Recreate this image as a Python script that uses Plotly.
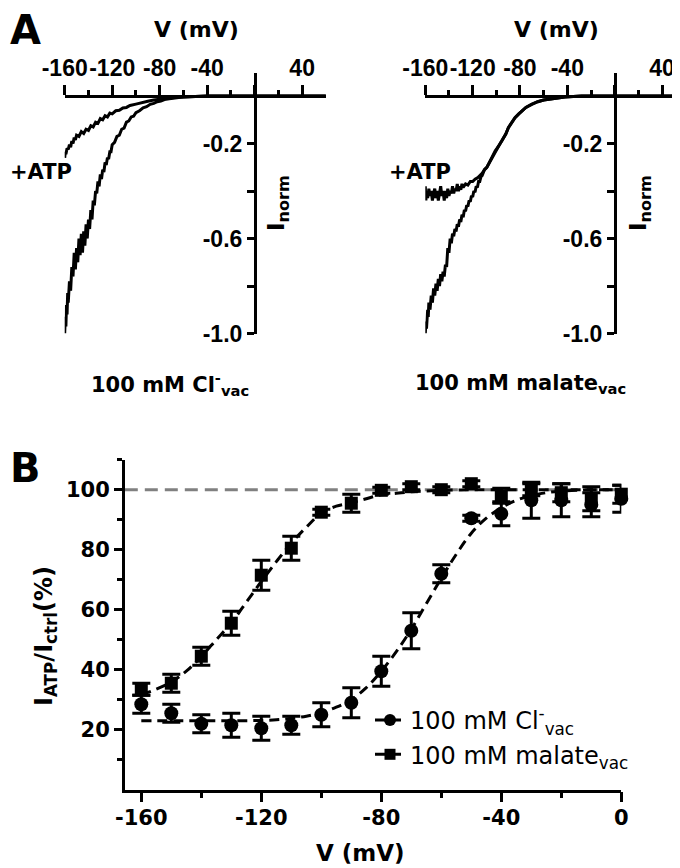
import plotly.graph_objects as go

# ---------------- Panel A: I-V recordings (V in mV, normalised current) -------------
# left panel: 100 mM Cl- vacuolar
cl_ctrl = [(-160, -1.00), (-159.5, -0.93), (-159, -0.97), (-158.5, -0.88), (-158, -0.92),
           (-157.5, -0.83), (-157, -0.87), (-156, -0.78), (-155, -0.82), (-154, -0.72),
           (-153, -0.76), (-152, -0.66), (-151, -0.73), (-150, -0.64), (-149, -0.70),
           (-148, -0.60), (-147, -0.67), (-146, -0.58), (-145, -0.66), (-144, -0.57),
           (-143, -0.63), (-142, -0.54), (-141, -0.60), (-140, -0.52), (-139, -0.56),
           (-138, -0.48), (-137, -0.52), (-136, -0.44), (-135, -0.46), (-134, -0.40),
           (-133, -0.41), (-132, -0.36), (-131, -0.38), (-130, -0.33), (-129, -0.35),
           (-128, -0.31), (-127, -0.32), (-126, -0.28), (-125, -0.29), (-124, -0.26),
           (-123, -0.265), (-122, -0.235), (-121, -0.235), (-120, -0.205), (-118, -0.195),
           (-116, -0.17), (-114, -0.165), (-112, -0.14), (-110, -0.135), (-108, -0.11),
           (-106, -0.105), (-104, -0.088), (-102, -0.085), (-100, -0.07), (-97, -0.062),
           (-94, -0.05), (-91, -0.045), (-88, -0.035), (-85, -0.031), (-82, -0.024),
           (-79, -0.021), (-76, -0.015), (-72, -0.012), (-68, -0.008), (-64, -0.006),
           (-60, -0.004), (-55, -0.003), (-50, -0.002), (-45, -0.001), (-40, 0.0),
           (-20, 0.0), (0, 0.0), (20, 0.0), (40, 0.0), (60, 0.0)]
cl_atp = [(-160, -0.26), (-159.5, -0.235), (-159, -0.245), (-158, -0.22), (-157, -0.225),
          (-156, -0.205), (-155, -0.215), (-154, -0.19), (-153, -0.20), (-152, -0.175),
          (-151, -0.185), (-150, -0.165), (-148, -0.17), (-146, -0.15), (-144, -0.158),
          (-142, -0.14), (-140, -0.145), (-138, -0.125), (-136, -0.13), (-134, -0.11),
          (-132, -0.115), (-130, -0.095), (-128, -0.10), (-126, -0.083), (-124, -0.088),
          (-122, -0.072), (-120, -0.075), (-117, -0.062), (-114, -0.06), (-111, -0.05),
          (-108, -0.048), (-105, -0.04), (-100, -0.034), (-95, -0.027), (-90, -0.022),
          (-85, -0.017), (-80, -0.013), (-75, -0.01), (-70, -0.007), (-65, -0.005),
          (-60, -0.004), (-55, -0.002), (-50, -0.001), (-40, 0.0), (-20, 0.0), (0, 0.0),
          (20, 0.0), (40, 0.0), (60, 0.0)]

# right panel: 100 mM malate vacuolar
mal_ctrl = [(-160, -1.00), (-159.4, -0.95), (-159, -0.98), (-158, -0.90), (-157.5, -0.93),
            (-157, -0.87), (-156, -0.90), (-155, -0.84), (-154, -0.87), (-153, -0.81),
            (-152, -0.84), (-151, -0.79), (-150, -0.82), (-149, -0.77), (-148, -0.80),
            (-147, -0.75), (-146, -0.78), (-145, -0.74), (-144, -0.76), (-143, -0.71),
            (-142, -0.72), (-141, -0.64), (-140, -0.66), (-139, -0.60), (-138, -0.62),
            (-137, -0.58), (-136, -0.59), (-135, -0.56), (-134, -0.57), (-133, -0.54),
            (-132, -0.55), (-131, -0.52), (-130, -0.53), (-129, -0.50), (-128, -0.51),
            (-127, -0.48), (-126, -0.485), (-125, -0.46), (-124, -0.465), (-123, -0.44),
            (-122, -0.445), (-121, -0.42), (-120, -0.425), (-119, -0.40), (-118, -0.405),
            (-117, -0.38), (-116, -0.385), (-115, -0.36), (-114, -0.36), (-113, -0.34),
            (-112, -0.335), (-110, -0.31), (-108, -0.30), (-106.7, -0.288), (-104, -0.262),
            (-101, -0.232), (-98, -0.21), (-95.4, -0.189), (-92, -0.16), (-89.8, -0.133),
            (-87, -0.11), (-84.2, -0.091), (-81, -0.075), (-78.6, -0.063), (-75, -0.048),
            (-70.2, -0.035), (-65, -0.024), (-60, -0.017), (-56.1, -0.014), (-50, -0.008),
            (-42.1, -0.004), (-35, -0.002), (-28, 0.0), (-10, 0.0), (0, 0.0), (20, 0.0),
            (40, 0.0), (60, 0.0)]
mal_atp = [(-160, -0.38), (-159.5, -0.44), (-159, -0.40), (-158, -0.43), (-157, -0.39),
           (-156, -0.42), (-155, -0.40), (-154, -0.44), (-153, -0.41), (-152, -0.39),
           (-151, -0.43), (-150, -0.40), (-149, -0.44), (-148, -0.41), (-147, -0.38),
           (-146, -0.42), (-145, -0.40), (-144, -0.44), (-143, -0.40), (-142, -0.43),
           (-141, -0.39), (-140, -0.42), (-139, -0.40), (-138, -0.41), (-137, -0.38),
           (-136, -0.41), (-135, -0.39), (-134, -0.40), (-133, -0.37), (-132, -0.40),
           (-131, -0.38), (-130, -0.395), (-129, -0.37), (-128, -0.385), (-126, -0.37),
           (-124, -0.375), (-122, -0.36), (-120, -0.36), (-118, -0.35), (-116, -0.345),
           (-114, -0.335), (-112, -0.325), (-110, -0.31), (-108, -0.30), (-106.7, -0.288),
           (-104, -0.262), (-101, -0.232), (-98, -0.21), (-95.4, -0.189), (-92, -0.16),
           (-89.8, -0.133), (-87, -0.11), (-84.2, -0.091), (-81, -0.075), (-78.6, -0.063),
           (-75, -0.048), (-70.2, -0.035), (-65, -0.024), (-60, -0.017), (-56.1, -0.014),
           (-50, -0.008), (-42.1, -0.004), (-35, -0.002), (-28, 0.0), (-10, 0.0), (0, 0.0),
           (20, 0.0), (40, 0.0), (60, 0.0)]

# ---------------- Panel B: I_ATP / I_ctrl (%) -------------
volt = [-160, -150, -140, -130, -120, -110, -100, -90, -80, -70, -60, -50, -40, -30, -20, -10, 0]
cl_mean = [28.5, 25.5, 22, 21.5, 20.5, 21.5, 25, 29, 39.5, 53, 72, 90.5, 92, 96.5, 96.5, 95, 97]
cl_err = [3, 3, 3, 4, 4, 3, 4, 5, 5, 6, 3, 1, 4, 6, 5.5, 4, 4.5]
mal_mean = [33.5, 35.5, 44.5, 55.5, 71.5, 80.5, 92.5, 95.5, 99.8, 101, 100, 102, 98, 100, 99, 97, 98.5]
mal_err = [2, 3, 3, 4, 5, 4, 1, 3, 1, 1, 1, 1, 2.5, 2, 3, 4, 3]

# fitted Boltzmann curves
fit_v = [-160, -155, -150, -145, -140, -135, -130, -125, -120, -115, -110, -105, -100, -95,
         -90, -85, -80, -75, -70, -65, -60, -55, -50, -45, -40, -35, -30, -25, -20, -15,
         -10, -5, 0]
cl_fit = [23, 23, 23, 23, 23, 23, 23, 23, 23.1, 23.3, 23.8, 24.5, 25.7, 27.5, 30, 34, 39.5,
          46, 53.5, 62, 70.5, 78.5, 85.5, 90.5, 94, 96.5, 98, 99, 99.5, 99.8, 100, 100, 100]
mal_fit = [31.7, 33.5, 35.9, 39.5, 44.4, 50, 55.6, 62.5, 69.4, 76, 82.2, 87.5, 92.2, 94.5,
           95.6, 97, 98.3, 98.8, 99.3, 99.6, 99.8, 99.9, 100, 100, 100, 100, 100, 100, 100,
           100, 100, 100, 100]
control_level = 100

ARIAL = "Liberation Sans, Arial, Helvetica, sans-serif"
DEJA = "DejaVu Sans, Verdana, sans-serif"
W, H = 680, 868


def px(x):
    return x / W


def py(y):
    return 1 - y / H


fig = go.Figure()


def add_trace_a(pairs, xa, ya):
    v = [p[0] for p in pairs]
    i = [p[1] for p in pairs]
    fig.add_trace(go.Scatter(x=v, y=i, mode="lines", xaxis=xa, yaxis=ya,
                             line=dict(color="black", width=3), showlegend=False,
                             hoverinfo="skip"))


add_trace_a(cl_ctrl, "x", "y")
add_trace_a(cl_atp, "x", "y")
add_trace_a(mal_ctrl, "x2", "y2")
add_trace_a(mal_atp, "x2", "y2")

# panel B fits
for fy in (cl_fit, mal_fit):
    fig.add_trace(go.Scatter(x=fit_v, y=fy, mode="lines", xaxis="x3", yaxis="y3",
                             line=dict(color="black", width=3, dash="10px,6px", shape="spline"),
                             showlegend=False))

# panel B data
fig.add_trace(go.Scatter(x=volt, y=mal_mean, mode="markers", xaxis="x3", yaxis="y3",
                         marker=dict(symbol="square", size=13, color="black"),
                         error_y=dict(type="data", array=mal_err, color="black", thickness=3, width=9),
                         cliponaxis=False, showlegend=False))
fig.add_trace(go.Scatter(x=volt, y=cl_mean, mode="markers", xaxis="x3", yaxis="y3",
                         marker=dict(symbol="circle", size=14, color="black"),
                         error_y=dict(type="data", array=cl_err, color="black", thickness=3, width=9),
                         cliponaxis=False, showlegend=False))

# legend entries
fig.add_trace(go.Scatter(x=[None], y=[None], mode="lines+markers", xaxis="x3", yaxis="y3",
                         name="100 mM Cl<sup>-</sup><sub>vac</sub>",
                         marker=dict(symbol="circle", size=12, color="black"),
                         line=dict(color="black", width=3, dash="10px,6px")))
fig.add_trace(go.Scatter(x=[None], y=[None], mode="lines+markers", xaxis="x3", yaxis="y3",
                         name="100 mM malate<sub>vac</sub>",
                         marker=dict(symbol="square", size=11, color="black"),
                         line=dict(color="black", width=3, dash="10px,6px")))

# reference line at 100 %
fig.add_shape(type="line", xref="x3 domain", x0=0, x1=1, yref="y3", y0=control_level,
              y1=control_level, line=dict(color="#808080", width=3, dash="13px,7px"), layer="below")

tickfont_a = dict(family=ARIAL, size=23, color="black", weight="bold")
tickfont_b = dict(family=DEJA, size=21, color="black", weight="bold")

common_x_a = dict(range=[-160, 60], showline=True, linewidth=2.5, linecolor="black",
                  ticks="outside", ticklen=10, tickwidth=2.5, tickcolor="black",
                  tickvals=[-160, -120, -80, -40, 0, 40],
                  ticktext=["-160", "-120", "-80", "-40", "", "40"], tickangle=0,
                  minor=dict(tickvals=[-140, -100, -60, -20, 20], ticklen=5, tickwidth=2.5,
                             tickcolor="black", ticks="outside"),
                  side="top", anchor="free", position=py(88), tickfont=tickfont_a,
                  showgrid=False, zeroline=False, automargin=False, fixedrange=True)
common_y_a = dict(range=[-1.0, 0.097], domain=[py(325.5), py(65)], showline=True,
                  linewidth=2.5, linecolor="black", ticks="outside", ticklen=7, tickwidth=2.5,
                  tickcolor="black", tickvals=[-1.0, -0.8, -0.6, -0.4, -0.2],
                  ticktext=["-1.0", "", "-0.6", "", "-0.2"], anchor="free", side="left",
                  tickfont=tickfont_a, showgrid=False, zeroline=False, automargin=False)

fig.update_layout(
    width=W, height=H, margin=dict(l=0, r=0, t=0, b=0),
    template="none", plot_bgcolor="white", paper_bgcolor="white",
    font=dict(family=DEJA, color="black"),
    xaxis=dict(domain=[px(56.7), px(317.9)], **common_x_a),
    yaxis=dict(position=px(246.7), **common_y_a),
    xaxis2=dict(domain=[px(417.3), px(677.7)], **common_x_a),
    yaxis2=dict(position=px(606.7), **common_y_a),
    xaxis3=dict(domain=[px(116.8), px(613.3)], range=[-165.5, 0], anchor="y3",
                showline=True, linewidth=2.5, linecolor="black", ticks="outside",
                ticklen=10, tickwidth=2.5, tickcolor="black",
                tickvals=[-160, -120, -80, -40, 0],
                ticktext=["-160", "-120", "-80", "-40", "0"], tickangle=0,
                minor=dict(tickvals=[-140, -100, -60, -20], ticklen=6, tickwidth=2.5,
                           tickcolor="black", ticks="outside"),
                ticklabelstandoff=-3,
                tickfont=tickfont_b, showgrid=False, zeroline=False, automargin=False),
    yaxis3=dict(domain=[py(781.7), py(451.7)], range=[0, 110], anchor="x3",
                showline=True, linewidth=2.5, linecolor="black", ticks="outside",
                ticklen=8, tickwidth=2.5, tickcolor="black",
                tickvals=[20, 40, 60, 80, 100],
                minor=dict(tickvals=[10, 30, 50, 70, 90, 110], ticklen=5, tickwidth=2.5,
                           tickcolor="black", ticks="outside"),
                tickfont=tickfont_b, showgrid=False, zeroline=False, automargin=False),
    legend=dict(x=px(362), y=py(690), xanchor="left", yanchor="top",
                font=dict(family=DEJA, size=24, color="black"), bgcolor="rgba(0,0,0,0)",
                itemwidth=30, tracegroupgap=0),
    showlegend=True,
)

ann = [
    dict(text="A", x=px(0), y=py(22), size=40, xanchor="left"),
    dict(text="B", x=px(0), y=py(460), size=40, xanchor="left"),
    dict(text="V (mV)", x=px(188), y=py(22), size=22),
    dict(text="V (mV)", x=px(548), y=py(22), size=22),
    dict(text="+ATP", x=px(33), y=py(164), size=21),
    dict(text="+ATP", x=px(412), y=py(164), size=21),
    dict(text="I<sub>norm</sub>", x=px(270), y=py(195), size=23, angle=-90),
    dict(text="I<sub>norm</sub>", x=px(632), y=py(195), size=23, angle=-90),
    dict(text="100 mM Cl<sup>-</sup><sub>vac</sub>", x=px(162), y=py(376), size=21),
    dict(text="100 mM malate<sub>vac</sub>", x=px(512), y=py(376), size=21),
    dict(text="V (mV)", x=px(352), y=py(845), size=23),
    dict(text="I<sub>ATP</sub>/I<sub>ctrl</sub>(%)", x=px(37), y=py(628), size=24, angle=-90),
]
for a in ann:
    fig.add_annotation(text=a["text"], x=a["x"], y=a["y"], xref="paper", yref="paper",
                       xanchor=a.get("xanchor", "center"), yanchor="middle",
                       textangle=a.get("angle", 0), showarrow=False,
                       font=dict(size=a["size"], family=DEJA, color="black", weight="bold"))

fig.write_html("out.html")
